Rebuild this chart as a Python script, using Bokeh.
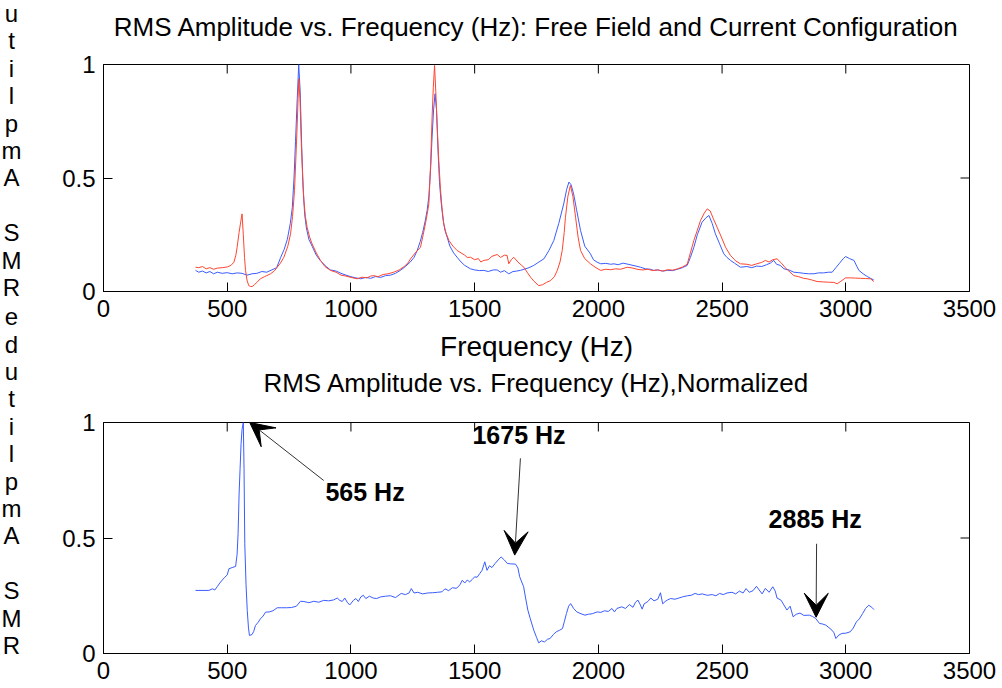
import numpy as np
from bokeh.plotting import figure
from bokeh.models import Range1d, FixedTicker, Label, Arrow, VeeHead
from bokeh.layouts import row, column
from bokeh.embed import file_html
from bokeh.resources import INLINE
from bokeh.core.properties import value

# ---------------- data ----------------
x_ticks = [0, 500, 1000, 1500, 2000, 2500, 3000, 3500]
x_tick_labels = ["0", "500", "1000", "1500", "2000", "2500", "3000", "3500"]
y_ticks = [0, 0.5, 1]
y_tick_labels = ["0", "0.5", "1"]

title_top = "RMS Amplitude vs. Frequency (Hz): Free Field and Current Configuration"
title_bottom = "RMS Amplitude vs. Frequency (Hz),Normalized"
x_label = "Frequency (Hz)"
y_label = "RMS Amplitude"

# blue trace, top panel
blue_freq = [372, 385, 400, 415, 430, 445, 460, 480, 500, 520, 540, 560, 580, 600, 620, 640, 660, 680,
             700, 716, 730, 743, 755, 763, 770, 776, 783, 789, 795, 801, 807, 813, 820, 830, 843, 860,
             877, 900, 917, 940, 960, 980, 1000, 1020, 1040, 1060, 1080, 1100, 1120, 1140, 1160, 1180,
             1200, 1220, 1240, 1255, 1268, 1280, 1290, 1300, 1308, 1315, 1322, 1328, 1334, 1340, 1346,
             1352, 1358, 1364, 1372, 1380, 1389, 1400, 1415, 1429, 1445, 1460, 1483, 1500, 1520, 1537,
             1555, 1575, 1591, 1605, 1620, 1638, 1655, 1670, 1685, 1700, 1720, 1739, 1760, 1780, 1800,
             1820, 1840, 1860, 1872, 1881, 1890, 1900, 1912, 1928, 1945, 1968, 1980, 1995, 2010, 2030,
             2050, 2063, 2080, 2100, 2120, 2140, 2160, 2170, 2190, 2210, 2224, 2240, 2260, 2280, 2300,
             2320, 2340, 2359, 2372, 2386, 2400, 2419, 2435, 2447, 2460, 2473, 2490, 2507, 2520, 2534,
             2550, 2574, 2600, 2620, 2640, 2660, 2680, 2695, 2709, 2720, 2735, 2750, 2770, 2790, 2810,
             2830, 2850, 2871, 2890, 2910, 2930, 2945, 2960, 2975, 2990, 2999, 3015, 3033, 3045, 3053,
             3070, 3087, 3100, 3113]
blue_amp = [0.093, 0.085, 0.090, 0.082, 0.088, 0.078, 0.085, 0.080, 0.083, 0.078, 0.082, 0.080, 0.072,
            0.078, 0.080, 0.088, 0.085, 0.095, 0.105, 0.150, 0.185, 0.230, 0.300, 0.370, 0.500, 0.660,
            0.850, 1.000, 0.880, 0.640, 0.450, 0.340, 0.280, 0.230, 0.200, 0.160, 0.135, 0.110, 0.095,
            0.090, 0.080, 0.072, 0.065, 0.060, 0.056, 0.062, 0.058, 0.066, 0.062, 0.070, 0.072, 0.080,
            0.093, 0.110, 0.130, 0.150, 0.181, 0.220, 0.260, 0.310, 0.357, 0.420, 0.540, 0.680, 0.800,
            0.871, 0.800, 0.620, 0.480, 0.400, 0.320, 0.270, 0.239, 0.200, 0.170, 0.151, 0.130, 0.115,
            0.100, 0.095, 0.092, 0.093, 0.088, 0.095, 0.095, 0.085, 0.092, 0.078, 0.088, 0.090, 0.093,
            0.098, 0.105, 0.115, 0.130, 0.144, 0.180, 0.225, 0.300, 0.386, 0.450, 0.482, 0.470, 0.430,
            0.360, 0.269, 0.200, 0.166, 0.140, 0.129, 0.122, 0.124, 0.120, 0.122, 0.118, 0.125, 0.120,
            0.115, 0.110, 0.107, 0.100, 0.098, 0.093, 0.095, 0.090, 0.093, 0.092, 0.098, 0.105, 0.115,
            0.150, 0.195, 0.250, 0.305, 0.325, 0.335, 0.300, 0.254, 0.210, 0.166, 0.150, 0.137, 0.125,
            0.107, 0.110, 0.105, 0.112, 0.110, 0.118, 0.125, 0.137, 0.120, 0.115, 0.100, 0.095, 0.085,
            0.083, 0.080, 0.078, 0.078, 0.082, 0.082, 0.085, 0.085, 0.105, 0.125, 0.145, 0.154, 0.145,
            0.137, 0.110, 0.093, 0.078, 0.066, 0.058, 0.051]

# red trace, top panel
red_freq = [372, 385, 400, 415, 430, 445, 460, 480, 500, 515, 527, 535, 540, 548, 555, 560, 565, 570,
            574, 580, 587, 594, 601, 610, 620, 634, 650, 660, 675, 690, 702, 715, 729, 745, 756, 764,
            772, 778, 783, 789, 794, 799, 805, 810, 816, 823, 833, 843, 860, 877, 895, 917, 940, 960,
            980, 1000, 1025, 1045, 1065, 1080, 1092, 1110, 1130, 1150, 1173, 1195, 1215, 1230, 1241,
            1260, 1281, 1292, 1301, 1308, 1315, 1322, 1328, 1333, 1338, 1343, 1349, 1355, 1362, 1368,
            1375, 1385, 1396, 1412, 1429, 1445, 1460, 1470, 1483, 1500, 1515, 1525, 1537, 1555, 1570,
            1591, 1605, 1620, 1631, 1638, 1648, 1658, 1675, 1690, 1699, 1712, 1726, 1740, 1759, 1775,
            1790, 1807, 1822, 1834, 1845, 1854, 1862, 1867, 1877, 1887, 1897, 1908, 1918, 1928, 1945,
            1968, 1990, 2009, 2030, 2050, 2070, 2090, 2117, 2140, 2160, 2180, 2200, 2220, 2240, 2260,
            2280, 2300, 2320, 2340, 2359, 2372, 2386, 2400, 2413, 2428, 2440, 2452, 2465, 2480, 2497,
            2514, 2534, 2555, 2574, 2600, 2620, 2640, 2660, 2675, 2690, 2705, 2722, 2740, 2755, 2770,
            2790, 2810, 2830, 2844, 2865, 2884, 2910, 2930, 2952, 2965, 2980, 2999, 3020, 3040, 3060,
            3080, 3100, 3113]
red_amp = [0.107, 0.105, 0.110, 0.100, 0.105, 0.098, 0.103, 0.105, 0.108, 0.115, 0.129, 0.160, 0.195,
           0.260, 0.310, 0.342, 0.250, 0.150, 0.093, 0.050, 0.026, 0.022, 0.022, 0.030, 0.040, 0.056,
           0.065, 0.070, 0.078, 0.090, 0.107, 0.125, 0.151, 0.200, 0.254, 0.330, 0.445, 0.600, 0.739,
           0.937, 0.850, 0.665, 0.500, 0.400, 0.330, 0.283, 0.240, 0.210, 0.170, 0.137, 0.110, 0.093,
           0.085, 0.072, 0.068, 0.062, 0.056, 0.063, 0.060, 0.068, 0.070, 0.065, 0.075, 0.078, 0.085,
           0.095, 0.110, 0.125, 0.144, 0.170, 0.195, 0.250, 0.298, 0.340, 0.386, 0.560, 0.768, 0.900,
           0.996, 0.880, 0.720, 0.577, 0.450, 0.370, 0.298, 0.255, 0.225, 0.200, 0.181, 0.170, 0.160,
           0.150, 0.151, 0.140, 0.145, 0.130, 0.137, 0.140, 0.155, 0.163, 0.150, 0.160, 0.159, 0.122,
           0.140, 0.151, 0.130, 0.115, 0.107, 0.085, 0.063, 0.045, 0.026, 0.030, 0.040, 0.048, 0.065,
           0.093, 0.130, 0.181, 0.260, 0.327, 0.420, 0.467, 0.420, 0.327, 0.240, 0.181, 0.145, 0.122,
           0.105, 0.093, 0.098, 0.096, 0.100, 0.098, 0.107, 0.103, 0.097, 0.095, 0.098, 0.092, 0.095,
           0.090, 0.096, 0.094, 0.100, 0.108, 0.120, 0.170, 0.225, 0.270, 0.313, 0.345, 0.364, 0.355,
           0.320, 0.283, 0.240, 0.195, 0.159, 0.135, 0.122, 0.120, 0.115, 0.122, 0.128, 0.137, 0.130,
           0.140, 0.144, 0.125, 0.105, 0.090, 0.070, 0.065, 0.058, 0.056, 0.050, 0.044, 0.042, 0.041,
           0.040, 0.034, 0.045, 0.060, 0.060, 0.059, 0.058, 0.057, 0.056, 0.044]

# normalized trace, bottom panel
norm_freq = [372, 390, 410, 426, 440, 450, 460, 470, 480, 490, 500, 507, 520, 534, 540, 544, 548, 552,
             556, 560, 565, 568, 571, 576, 581, 586, 590, 600, 607, 614, 625, 634, 645, 655, 670, 685,
             702, 720, 740, 760, 780, 796, 810, 830, 850, 870, 890, 910, 930, 945, 955, 965, 975, 985,
             995, 1010, 1020, 1030, 1040, 1050, 1060, 1075, 1090, 1104, 1120, 1140, 1160, 1180, 1203,
             1220, 1235, 1244, 1255, 1270, 1290, 1310, 1330, 1350, 1368, 1380, 1395, 1410, 1425, 1434,
             1442, 1450, 1460, 1470, 1480, 1490, 1500, 1510, 1520, 1530, 1541, 1550, 1560, 1570, 1583,
             1595, 1607, 1620, 1632, 1645, 1665, 1675, 1682, 1698, 1706, 1715, 1725, 1739, 1750, 1759,
             1770, 1782, 1795, 1805, 1818, 1830, 1842, 1855, 1863, 1871, 1880, 1888, 1900, 1913, 1930,
             1946, 1960, 1975, 1995, 2010, 2025, 2040, 2055, 2065, 2075, 2094, 2110, 2125, 2140, 2150,
             2160, 2170, 2177, 2185, 2200, 2212, 2225, 2240, 2251, 2260, 2270, 2280, 2292, 2310, 2325,
             2340, 2360, 2375, 2391, 2405, 2420, 2440, 2460, 2475, 2490, 2505, 2520, 2540, 2555, 2570,
             2585, 2597, 2610, 2625, 2639, 2650, 2662, 2675, 2690, 2705, 2715, 2722, 2738, 2750, 2762,
             2775, 2787, 2800, 2815, 2830, 2853, 2866, 2878, 2894, 2905, 2919, 2932, 2944, 2952, 2960,
             2972, 2985, 3000, 3018, 3030, 3043, 3055, 3068, 3080, 3093, 3105, 3114]
norm_amp = [0.273, 0.273, 0.273, 0.273, 0.280, 0.275, 0.290, 0.305, 0.318, 0.330, 0.340, 0.367, 0.372,
            0.377, 0.430, 0.520, 0.690, 0.800, 0.908, 0.970, 1.000, 0.800, 0.475, 0.300, 0.186, 0.110,
            0.078, 0.082, 0.095, 0.121, 0.135, 0.150, 0.162, 0.179, 0.180, 0.185, 0.198, 0.198, 0.198,
            0.199, 0.205, 0.226, 0.225, 0.220, 0.226, 0.222, 0.230, 0.228, 0.232, 0.240, 0.230, 0.225,
            0.240, 0.222, 0.210, 0.230, 0.238, 0.225, 0.245, 0.252, 0.238, 0.248, 0.240, 0.238, 0.245,
            0.248, 0.250, 0.242, 0.260, 0.255, 0.262, 0.281, 0.262, 0.265, 0.258, 0.262, 0.263, 0.265,
            0.267, 0.280, 0.272, 0.285, 0.282, 0.289, 0.300, 0.317, 0.305, 0.318, 0.310, 0.320, 0.332,
            0.330, 0.345, 0.360, 0.397, 0.360, 0.380, 0.372, 0.390, 0.405, 0.418, 0.405, 0.390, 0.388,
            0.387, 0.370, 0.332, 0.289, 0.240, 0.188, 0.150, 0.101, 0.070, 0.046, 0.055, 0.050, 0.062,
            0.065, 0.082, 0.094, 0.100, 0.108, 0.140, 0.173, 0.205, 0.216, 0.195, 0.180, 0.172, 0.166,
            0.170, 0.172, 0.180, 0.178, 0.185, 0.182, 0.195, 0.180, 0.195, 0.202, 0.195, 0.212, 0.200,
            0.222, 0.231, 0.210, 0.192, 0.215, 0.225, 0.240, 0.228, 0.235, 0.263, 0.215, 0.225, 0.232,
            0.238, 0.235, 0.240, 0.245, 0.250, 0.252, 0.260, 0.255, 0.258, 0.252, 0.255, 0.250, 0.260,
            0.255, 0.262, 0.265, 0.258, 0.270, 0.262, 0.281, 0.265, 0.272, 0.291, 0.275, 0.258, 0.282,
            0.265, 0.289, 0.270, 0.240, 0.231, 0.210, 0.188, 0.205, 0.159, 0.170, 0.175, 0.165, 0.166,
            0.160, 0.152, 0.130, 0.128, 0.123, 0.112, 0.101, 0.090, 0.065, 0.080, 0.087, 0.088, 0.094,
            0.110, 0.137, 0.150, 0.173, 0.195, 0.209, 0.200, 0.190]

# annotations (text, arrow tail, arrow tip, text anchor) in data units
ann_text = ["565 Hz", "1675 Hz", "2885 Hz"]
ann_tail_x = [890, 1685, 2882]
ann_tail_y = [0.749, 0.845, 0.475]
ann_tip_x = [591, 1662, 2880]
ann_tip_y = [1.0, 0.426, 0.157]
ann_label_x = [897, 1491, 2688]
ann_label_y = [0.700, 0.944, 0.584]

# ---------------- styling / layout ----------------
FONT = "Liberation Sans"
BLUE = "#3a5cff"
RED = "#ff4530"
TICK_FS = "24px"
TITLE_FS = "26px"
XLABEL_FS = "28px"
PW = 958            # main panel width
ML, MR = 59, 33     # left / right borders around the frame
TICK_LEN = 9        # inward tick length in pixels
FRAME_W = PW - ML - MR
X_MAX = 3500
TITLE_HALF = 13     # half height of the title text box


def style_axis(ax, ticks, labels, standoff):
    ax.ticker = FixedTicker(ticks=ticks)
    ax.major_label_overrides = {t: l for t, l in zip(ticks, labels)}
    ax.major_tick_in = TICK_LEN
    ax.major_tick_out = 0
    ax.minor_tick_line_color = None
    ax.axis_line_color = "black"
    ax.major_tick_line_color = "black"
    ax.major_label_text_font = FONT
    ax.major_label_text_color = "black"
    ax.major_label_text_font_size = TICK_FS
    ax.major_label_standoff = standoff


def make_panel(height, border_top, border_bottom, title, title_gap):
    """title_gap: pixels from the frame's top edge up to the title's centre line."""
    frame_h = height - border_top - border_bottom
    p = figure(width=PW, height=height, output_backend="svg", toolbar_location=None,
               x_range=Range1d(0, X_MAX), y_range=Range1d(0, 1),
               min_border_left=ML, min_border_right=MR,
               min_border_top=border_top, min_border_bottom=border_bottom,
               background_fill_color="white", border_fill_color="white")
    p.grid.visible = False
    p.outline_line_color = "black"
    p.outline_line_width = 1
    style_axis(p.below[0], x_ticks, x_tick_labels, 8)
    style_axis(p.left[0], y_ticks, y_tick_labels, 8)
    # inward ticks on the top and right edges of the box (MATLAB style)
    dy = TICK_LEN / frame_h
    dx = TICK_LEN * X_MAX / FRAME_W
    p.segment(x0=x_ticks, y0=[1] * len(x_ticks), x1=x_ticks, y1=[1 - dy] * len(x_ticks),
              line_color="black", line_width=1)
    p.segment(x0=[X_MAX] * len(y_ticks), y0=y_ticks, x1=[X_MAX - dx] * len(y_ticks), y1=y_ticks,
              line_color="black", line_width=1)
    t = p.title
    t.text = title
    t.align = "center"
    t.text_font = FONT
    t.text_font_size = TITLE_FS
    t.text_font_style = "normal"
    t.text_color = "black"
    t.vertical_align = "bottom"
    if "padding" in t.properties():
        # small standoff; lift the text with bottom padding so the panel stays compact
        t.standoff = 2
        lift = max(0, int(round(title_gap - TITLE_HALF - 1)))
        t.padding = dict(left=0, right=0, top=0, bottom=lift)
    else:
        t.standoff = min(border_top - 29, int(round(2 * (title_gap - TITLE_HALF))))
    return p


# top panel: canvas rows 0..364, frame 64..291
p1 = make_panel(364, 64, 73, title_top, 36)
xa = p1.below[0]
xa.axis_label = x_label
xa.axis_label_text_font = FONT
xa.axis_label_text_font_size = XLABEL_FS
xa.axis_label_text_font_style = "normal"
xa.axis_label_text_color = "black"
xa.axis_label_standoff = 11
p1.line(blue_freq, blue_amp, line_color=BLUE, line_width=1)
p1.line(red_freq, red_amp, line_color=RED, line_width=1)

# bottom panel: canvas rows 364..688, frame 422..653
p2 = make_panel(324, 58, 35, title_bottom, 38)
p2.line(norm_freq, norm_amp, line_color=BLUE, line_width=1)
for t, x0, y0, x1, y1, lx, ly in zip(ann_text, ann_tail_x, ann_tail_y, ann_tip_x, ann_tip_y,
                                     ann_label_x, ann_label_y):
    p2.add_layout(Arrow(end=VeeHead(size=24, fill_color="black", line_color="black"),
                        x_start=x0, y_start=y0, x_end=x1, y_end=y1,
                        line_color="#333333", line_width=1))
    p2.add_layout(Label(x=lx, y=ly, text=t, text_font=FONT, text_font_style="bold",
                        text_font_size="25px", text_baseline="middle", text_align="left",
                        text_color="black"))

# stacked y-label letters (MATLAB-style vertical character column)
LH = 688
lf = figure(width=44, height=LH, output_backend="svg", toolbar_location=None,
            x_range=Range1d(0, 44), y_range=Range1d(LH, 0), min_border=0,
            x_axis_location=None, y_axis_location=None,
            background_fill_color="white", border_fill_color="white")
lf.grid.visible = False
lf.outline_line_color = None
LINE_STEP = 27.4
chars, cy = [], []
for bottom in (287, 645):
    for i, ch in enumerate(y_label):
        yy = bottom - i * LINE_STEP
        if ch != " " and yy > 4:
            chars.append(ch)
            cy.append(yy)
lf.text(x=[11] * len(chars), y=cy, text=chars, text_align="center", text_baseline="middle",
        text_font=value(FONT), text_font_size="24px", text_color="black")

layout = row(lf, column(p1, p2))
open("out.html", "w").write(file_html(layout, INLINE))
